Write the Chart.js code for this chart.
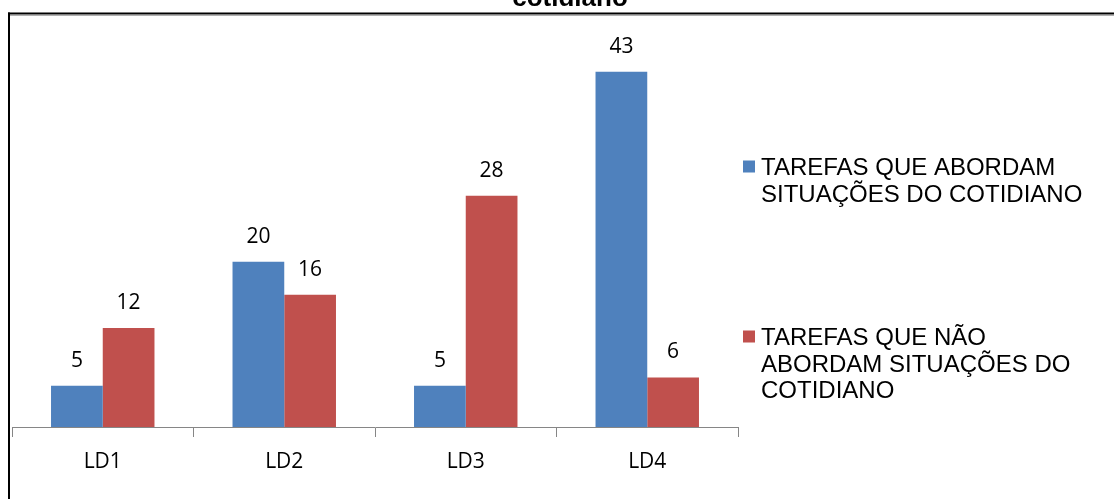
<!DOCTYPE html>
<html>
<head>
<meta charset="utf-8">
<script src="https://cdn.jsdelivr.net/npm/chart.js@4.4.1/dist/chart.umd.min.js"></script>
<style>
    html, body { margin: 0; padding: 0; background: #ffffff; }
    #wrap { position: relative; width: 1114px; height: 499px; }
</style>
</head>
<body>
<div id="wrap"><canvas id="tarefas-chart" width="1114" height="499"></canvas></div>
<script>
const categories = ['LD1', 'LD2', 'LD3', 'LD4'];
const seriesNames = [
    'TAREFAS QUE ABORDAM SITUAÇÕES DO COTIDIANO',
    'TAREFAS QUE NÃO ABORDAM SITUAÇÕES DO COTIDIANO'
];
const comCotidiano = [5, 20, 5, 43];
const semCotidiano = [12, 16, 28, 6];
const chartTitle = 'cotidiano';

const seriesColors = ['#4f81bd', '#c0504d'];

// frame + cut-off title at the top
const framePlugin = {
    id: 'frame',
    afterDraw(chart) {
        const ctx = chart.ctx;
        ctx.save();
        ctx.fillStyle = '#b0b0b0';
        ctx.fillRect(10, 15, 1104, 1);
        ctx.fillStyle = '#000000';
        ctx.fillRect(8, 12.5, 1106, 2);
        ctx.fillRect(8, 12.5, 2, 487);
        ctx.font = 'bold 26px "Liberation Sans", Arial, sans-serif';
        ctx.textAlign = 'center';
        ctx.textBaseline = 'alphabetic';
        ctx.fillText(chartTitle, 570, 6);
        ctx.restore();
    }
};

// value labels above the bars
const valueLabels = {
    id: 'valueLabels',
    afterDatasetsDraw(chart) {
        const ctx = chart.ctx;
        ctx.save();
        ctx.font = '21px "Open Sans", sans-serif';
        ctx.fillStyle = '#000000';
        ctx.textAlign = 'center';
        ctx.textBaseline = 'alphabetic';
        chart.data.datasets.forEach((ds, i) => {
            chart.getDatasetMeta(i).data.forEach((bar, j) => {
                ctx.fillText(String(ds.data[j]), bar.x, bar.y - 19);
            });
        });
        ctx.restore();
    }
};

// legend on the right with wrapped text
const sideLegend = {
    id: 'sideLegend',
    afterDraw(chart) {
        const ctx = chart.ctx;
        const firstBaselines = [175, 345];
        const lineHeight = 26.7;
        const maxWidth = 335;
        ctx.save();
        ctx.font = '24px "Liberation Sans", Arial, sans-serif';
        ctx.textBaseline = 'alphabetic';
        ctx.textAlign = 'left';
        chart.data.datasets.forEach((ds, i) => {
            const words = ds.label.split(' ');
            const lines = [];
            let cur = '';
            words.forEach(w => {
                const test = cur ? cur + ' ' + w : w;
                if (ctx.measureText(test).width > maxWidth && cur) {
                    lines.push(cur);
                    cur = w;
                } else {
                    cur = test;
                }
            });
            if (cur) lines.push(cur);

            const base = firstBaselines[i];
            ctx.fillStyle = ds.backgroundColor;
            ctx.fillRect(743, base - 14.5, 12, 12);
            ctx.fillStyle = '#000000';
            lines.forEach((line, k) => {
                ctx.fillText(line, 761, base + k * lineHeight);
            });
        });
        ctx.restore();
    }
};

const ctx = document.getElementById('tarefas-chart').getContext('2d');

new Chart(ctx, {
    type: 'bar',
    data: {
        labels: categories,
        datasets: [
            {
                label: seriesNames[0],
                data: comCotidiano,
                backgroundColor: seriesColors[0],
                borderWidth: 0
            },
            {
                label: seriesNames[1],
                data: semCotidiano,
                backgroundColor: seriesColors[1],
                borderWidth: 0
            }
        ]
    },
    options: {
        responsive: false,
        animation: false,
        layout: {
            padding: { left: 12, right: 376, top: 14, bottom: 0 }
        },
        datasets: {
            bar: {
                categoryPercentage: 0.57,
                barPercentage: 1.0
            }
        },
        scales: {
            x: {
                afterFit: function(scale) {
                    scale.height = 72;
                },
                grid: {
                    display: true,
                    offset: true,
                    drawOnChartArea: false,
                    drawTicks: true,
                    tickLength: 10,
                    color: '#868686'
                },
                border: {
                    display: true,
                    color: '#868686',
                    width: 1
                },
                ticks: {
                    color: '#000000',
                    padding: 12,
                    font: {
                        family: '"Open Sans", sans-serif',
                        size: 21
                    }
                }
            },
            y: {
                display: false,
                min: 0,
                max: 50
            }
        },
        plugins: {
            legend: { display: false },
            title: { display: false },
            tooltip: { enabled: false }
        }
    },
    plugins: [valueLabels, sideLegend, framePlugin]
});
</script>
</body>
</html>
